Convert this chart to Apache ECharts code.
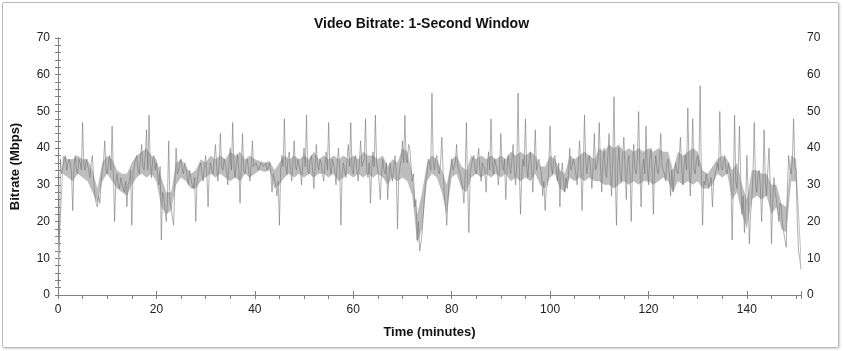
<!DOCTYPE html>
<html>
<head>
<meta charset="utf-8">
<script src="https://cdn.jsdelivr.net/npm/echarts@6/dist/echarts.min.js"></script>
<style>
  html, body { margin: 0; padding: 0; background: #ffffff; }
  #frame { position: absolute; left: 2px; top: 2px; width: 835px; height: 344px; border: 1px solid #b9b9b9; box-shadow: 1px 1px 2px #d0d0d0; border-radius: 2px; }
  #chart { position: absolute; left: 0; top: 0; width: 843px; height: 351px; }
</style>
</head>
<body>
<div id="frame"></div>
<div id="chart"></div>
<script>
// Chart text
const chartTitle = 'Video Bitrate: 1-Second Window';
const xAxisName = 'Time (minutes)';
const yAxisName = 'Bitrate (Mbps)';

// Axis ranges (minutes, Mbps)
const timeMax = 151;
const bitrateMax = 70;

// Sampling step of the bitrate values below (minutes)
const stepMinutes = 0.25;

// Bitrate in Mbps, one value every quarter minute from t = 0
const bitrate = [
  3, 12, 37, 33, 33, 37, 38, 34, 34, 37, 36, 33, 23, 35, 38, 34, 33, 37, 36, 34,      // 0 - 4.75
  47, 35, 34, 37, 37, 34, 32, 36, 38, 31, 27, 25, 24, 27, 25, 30, 34, 36, 42, 34,     // 5 - 9.75
  33, 36, 38, 34, 46, 33, 20, 31, 33, 30, 29, 32, 32, 29, 28, 31, 24, 30, 31, 34,     // 10 - 14.75
  19, 33, 35, 37, 38, 34, 33, 37, 41, 35, 34, 38, 45, 34, 49, 36, 32, 37, 38, 34,     // 15 - 19.75
  36, 33, 30, 35, 15, 28, 27, 23, 20, 26, 42, 25, 24, 21, 19, 30, 40, 33, 34, 36,     // 20 - 24.75
  37, 34, 33, 36, 35, 32, 30, 34, 32, 30, 29, 32, 20, 31, 33, 35, 36, 33, 31, 35,     // 25 - 29.75
  38, 33, 24, 34, 36, 34, 33, 37, 41, 35, 31, 36, 44, 35, 34, 37, 37, 34, 30, 35,     // 30 - 34.75
  40, 34, 47, 35, 32, 36, 38, 34, 25, 35, 44, 34, 33, 36, 37, 34, 31, 35, 42, 35,     // 35 - 39.75
  35, 36, 36, 34, 34, 36, 36, 35, 35, 36, 34, 35, 36, 33, 28, 33, 33, 30, 27, 31,     // 40 - 44.75
  19, 34, 38, 35, 48, 36, 33, 37, 39, 34, 31, 36, 42, 35, 34, 37, 37, 34, 30, 36,     // 45 - 49.75
  40, 35, 49, 34, 33, 37, 38, 34, 29, 35, 41, 35, 34, 37, 36, 33, 31, 36, 39, 34,     // 50 - 54.75
  47, 35, 33, 37, 37, 34, 30, 36, 40, 34, 19, 33, 36, 34, 32, 37, 41, 35, 47, 34,     // 55 - 59.75
  33, 37, 38, 34, 31, 36, 42, 35, 35, 37, 48, 34, 32, 36, 25, 34, 39, 35, 49, 36,     // 60 - 64.75
  34, 31, 26, 33, 37, 34, 33, 36, 26, 32, 36, 33, 31, 35, 38, 33, 18, 32, 35, 37,     // 65 - 69.75
  42, 36, 49, 37, 36, 41, 40, 35, 31, 33, 24, 26, 15, 20, 12, 14, 17, 22, 27, 31,     // 70 - 74.75
  33, 37, 36, 34, 55, 36, 34, 37, 38, 34, 33, 36, 43, 34, 28, 24, 19, 26, 31, 34,     // 75 - 79.75
  37, 34, 34, 36, 41, 35, 35, 33, 31, 29, 25, 33, 47, 30, 17, 33, 35, 37, 38, 34,     // 80 - 84.75
  33, 37, 40, 34, 31, 36, 36, 34, 28, 35, 39, 34, 48, 36, 33, 37, 37, 34, 30, 35,     // 85 - 89.75
  44, 35, 34, 37, 26, 34, 38, 35, 33, 37, 41, 34, 30, 36, 55, 34, 22, 33, 37, 35,     // 90 - 94.75
  48, 35, 32, 37, 39, 34, 28, 36, 45, 34, 34, 37, 37, 33, 27, 31, 23, 29, 30, 35,     // 95 - 99.75
  46, 35, 33, 37, 38, 34, 31, 36, 24, 33, 36, 31, 28, 32, 29, 33, 40, 34, 34, 37,     // 100 - 104.75
  37, 33, 30, 36, 42, 35, 23, 34, 49, 36, 33, 37, 38, 34, 29, 35, 44, 34, 34, 37,     // 105 - 109.75
  47, 35, 28, 37, 40, 33, 32, 38, 44, 34, 27, 37, 54, 33, 19, 36, 40, 33, 31, 38,     // 110 - 114.75
  43, 34, 26, 36, 38, 33, 20, 35, 41, 34, 33, 37, 50, 35, 24, 34, 37, 33, 46, 35,     // 115 - 119.75
  30, 37, 40, 34, 22, 35, 38, 34, 33, 37, 44, 35, 35, 33, 31, 36, 37, 33, 27, 34,     // 120 - 124.75
  28, 33, 36, 34, 33, 37, 43, 34, 30, 36, 38, 34, 51, 35, 27, 36, 48, 34, 33, 37,     // 125 - 129.75
  38, 35, 57, 33, 19, 31, 30, 33, 33, 29, 29, 32, 24, 31, 31, 34, 36, 34, 50, 35,     // 130 - 134.75
  34, 36, 38, 34, 33, 36, 36, 32, 15, 30, 49, 31, 29, 35, 46, 31, 22, 27, 17, 25,     // 135 - 139.75
  38, 28, 14, 22, 26, 33, 47, 31, 28, 33, 34, 29, 20, 30, 45, 31, 27, 34, 40, 30,     // 140 - 144.75
  14, 26, 32, 28, 26, 23, 20, 25, 24, 19, 17, 15, 13, 30, 38, 34, 33, 37, 48, 35,     // 145 - 149.75
  34, 20, 12, 10, 7                                                                   // 150 - 151
];

// Dense core of the trace, per minute from t = 0 (lower / upper edge, Mbps)
const coreLow = [
  4, 33, 32, 31, 33, 32, 31, 28, 25, 31,
  33, 31, 29, 28, 27, 30, 32, 33, 32, 33,
  31, 24, 22, 23, 30, 32, 31, 29, 29, 31,
  32, 33, 32, 33, 32, 31, 32, 31, 33, 32,
  33, 34, 33.5, 34, 29, 30, 32, 33, 32, 33,
  32, 33, 32, 33, 33, 32, 33, 31, 32, 33,
  32, 33, 32, 33, 32, 33, 32, 30, 32, 31,
  32, 31, 27, 14, 18, 31, 33, 32, 28, 22,
  32, 33, 29, 28, 32, 33, 32, 33, 32, 33,
  32, 33, 31, 32, 31, 32, 31, 33, 30, 29,
  32, 33, 29, 28, 32, 31, 32, 31, 32, 31,
  31, 30, 30, 29, 30, 31, 30, 31, 30, 31,
  31, 30, 31, 32, 31, 28, 31, 30, 31, 30,
  31, 29, 29, 30, 33, 32, 33, 26, 28, 22,
  18, 26, 27, 26, 27, 22, 24, 18, 17, 31,
  31, 8
];
const coreHigh = [
  12, 38, 37, 37, 38, 37, 37, 34, 29, 36,
  38, 37, 34, 33, 33, 36, 38, 39, 40, 38,
  37, 32, 28, 28, 36, 37, 35, 33, 34, 37,
  36, 38, 37, 38, 37, 39, 38, 39, 37, 38,
  37, 36.5, 36, 36.5, 34, 36, 38, 37, 38, 37,
  38, 37, 39, 37, 38, 37, 38, 37, 38, 37,
  38, 37, 39, 38, 38, 37, 38, 35, 37, 36,
  40, 39, 33, 22, 28, 36, 38, 37, 34, 30,
  37, 38, 35, 34, 38, 37, 38, 37, 38, 37,
  38, 37, 39, 38, 39, 38, 39, 38, 35, 35,
  38, 37, 34, 33, 38, 37, 38, 39, 38, 37,
  40, 39, 41, 40, 41, 39, 40, 39, 40, 39,
  40, 39, 40, 39, 39, 34, 39, 38, 39, 40,
  39, 34, 33, 35, 37, 38, 37, 34, 36, 30,
  26, 34, 34, 33, 33, 30, 30, 25, 24, 38,
  37, 12
];

const seriesData = bitrate.map((v, i) => [i * stepMinutes, v]);

const axisGray = '#808080';
const labelStyle = { color: '#222', fontSize: 12, fontFamily: 'Liberation Sans, Arial, sans-serif' };

function xAxis(opts) {
  return Object.assign({
    type: 'value', min: 0, max: timeMax, gridIndex: 0,
    splitLine: { show: false },
    axisLine: { show: false, lineStyle: { color: axisGray } },
    axisLabel: { show: false },
    axisTick: { show: true, lineStyle: { color: axisGray } }
  }, opts);
}
function yAxis(opts) {
  return Object.assign({
    type: 'value', min: 0, max: bitrateMax, gridIndex: 0,
    splitLine: { show: false },
    axisLine: { show: false, lineStyle: { color: axisGray } },
    axisLabel: { show: false },
    axisTick: { show: true, lineStyle: { color: axisGray } }
  }, opts);
}

function renderCore(params, api) {
  const pts = [];
  for (let i = 0; i < coreHigh.length; i++) pts.push(api.coord([i, coreHigh[i]]));
  for (let i = coreLow.length - 1; i >= 0; i--) pts.push(api.coord([i, coreLow[i]]));
  return {
    type: 'polygon',
    shape: { points: pts },
    style: { fill: '#bdbdbd', opacity: 1 }
  };
}

const chart = echarts.init(document.getElementById('chart'), null, { renderer: 'canvas' });
chart.setOption({
  animation: false,
  backgroundColor: 'transparent',
  title: {
    text: chartTitle, left: 'center', top: 12,
    textStyle: { fontSize: 14, fontWeight: 'bold', color: '#111', fontFamily: 'Liberation Sans, Arial, sans-serif' }
  },
  grid: { left: 58, right: 42, top: 38, bottom: 56, containLabel: false },
  xAxis: [
    xAxis({ position: 'bottom', interval: 20,
      axisLine: { show: true, lineStyle: { color: axisGray } },
      axisTick: { show: true, length: 4, lineStyle: { color: axisGray } },
      axisLabel: Object.assign({ show: true, margin: 9, showMaxLabel: false }, labelStyle),
      name: xAxisName, nameLocation: 'middle', nameGap: 31,
      nameTextStyle: { fontSize: 13, fontWeight: 'bold', color: '#111', fontFamily: 'Liberation Sans, Arial, sans-serif' } }),
    xAxis({ position: 'bottom', interval: 20, axisTick: { show: true, inside: true, length: 4, lineStyle: { color: axisGray } } }),
    xAxis({ position: 'bottom', interval: 5, axisTick: { show: true, length: 3, lineStyle: { color: axisGray } } }),
    xAxis({ position: 'top', interval: 5,
      axisLine: { show: true, lineStyle: { color: axisGray } },
      axisTick: { show: true, inside: true, length: 4, lineStyle: { color: axisGray } } })
  ],
  yAxis: [
    yAxis({ position: 'left', interval: 10,
      axisLine: { show: true, lineStyle: { color: axisGray } },
      axisTick: { show: true, length: 3, lineStyle: { color: axisGray } },
      axisLabel: Object.assign({ show: true, margin: 8 }, labelStyle),
      name: yAxisName, nameLocation: 'middle', nameGap: 36, nameRotate: 90,
      nameTextStyle: { fontSize: 13, fontWeight: 'bold', color: '#111', fontFamily: 'Liberation Sans, Arial, sans-serif' } }),
    yAxis({ position: 'left', interval: 2, axisTick: { show: true, inside: true, length: 3, lineStyle: { color: axisGray } } }),
    yAxis({ position: 'right', interval: 10,
      axisLine: { show: true, lineStyle: { color: axisGray } },
      axisTick: { show: true, length: 3, lineStyle: { color: axisGray } },
      axisLabel: Object.assign({ show: true, margin: 6 }, labelStyle) }),
    yAxis({ position: 'right', interval: 2, axisTick: { show: true, inside: true, length: 3, lineStyle: { color: axisGray } } })
  ],
  series: [
    {
      type: 'custom', name: 'core',
      xAxisIndex: 0, yAxisIndex: 0,
      data: [[0, coreLow[0]]],
      renderItem: renderCore,
      silent: true,
      clip: true,
      z: 1
    },
    {
      type: 'line', name: 'bitrate',
      xAxisIndex: 0, yAxisIndex: 0,
      data: seriesData,
      showSymbol: false,
      sampling: null,
      lineStyle: { color: '#707070', width: 0.7, opacity: 0.8 },
      emphasis: { disabled: true },
      z: 2
    }
  ]
});
</script>
</body>
</html>
